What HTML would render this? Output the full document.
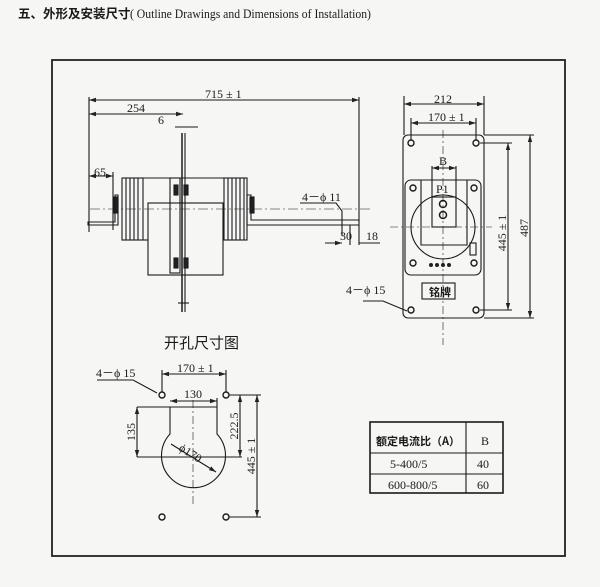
<!DOCTYPE html>
<html><head><meta charset="utf-8"><style>
html,body{margin:0;padding:0;background:#f6f6f4;}
svg{display:block}
text{fill:#1a1a1a}
</style></head><body>
<svg width="600" height="587" viewBox="0 0 600 587" xmlns="http://www.w3.org/2000/svg">
<defs><marker id="a" markerWidth="8" markerHeight="6" refX="7" refY="3" orient="auto-start-reverse" markerUnits="userSpaceOnUse"><path d="M0,0.8 L7,3 L0,5.2z" fill="#222"/></marker></defs>
<text x="18" y="18" style="font-family:'Noto Sans CJK SC',sans-serif;font-size:12.5px;font-weight:bold">五、外形及安装尺寸</text>
<text x="130" y="18" style="font-family:'Liberation Serif',serif;font-size:13px" transform="translate(130,0) scale(0.9,1) translate(-130,0)">( Outline Drawings and Dimensions of Installation)</text>
<rect x="52" y="60" width="513" height="496" fill="none" stroke="#222" stroke-width="1.8"/>
<g stroke="#1a1a1a" fill="none" stroke-width="1.1">
<line x1="89" y1="97" x2="89" y2="232"/><line x1="359" y1="97" x2="359" y2="222"/>
<line x1="89" y1="100" x2="359" y2="100" marker-start="url(#a)" marker-end="url(#a)"/>
<line x1="89" y1="114" x2="183" y2="114" marker-start="url(#a)" marker-end="url(#a)"/>
<line x1="175" y1="127" x2="198" y2="127"/>
<line x1="113" y1="172" x2="113" y2="230"/>
<line x1="89" y1="176" x2="113" y2="176" marker-start="url(#a)" marker-end="url(#a)"/>
<line x1="182" y1="133" x2="182" y2="312" stroke-width="1.5"/>
<line x1="185" y1="133" x2="185" y2="312"/>
<line x1="178" y1="303" x2="189" y2="303"/>
<rect x="122" y="178" width="21" height="62"/><rect x="224" y="178" width="23" height="62"/>
<path d="M126,178v62M130,178v62M134,178v62M138,178v62M228,178v62M232,178v62M236,178v62M240,178v62M244,178v62"/>
<line x1="143" y1="178" x2="224" y2="178"/><line x1="143" y1="240" x2="148" y2="240"/>
<rect x="148" y="203" width="75" height="72"/>
<rect x="170" y="178" width="10" height="95"/>
<rect x="174" y="185" width="4" height="10" fill="#222"/><rect x="184" y="185" width="4" height="10" fill="#222"/>
<rect x="174" y="258" width="4" height="10" fill="#222"/><rect x="184" y="258" width="4" height="10" fill="#222"/>
<rect x="114" y="197" width="4" height="16" fill="#222"/><rect x="250" y="197" width="4" height="16" fill="#222"/>
<path d="M118,195v30h-30v-3h27v-27z"/>
<path d="M247,195v30h112v-5h-108v-25z"/>
<line x1="90" y1="209" x2="370" y2="209" stroke-dasharray="10,3,2,3" stroke-width="0.6"/>
<path d="M300,203h36l6,8v25"/><line x1="350" y1="225" x2="350" y2="245"/><line x1="359" y1="225" x2="359" y2="245"/>
<line x1="325" y1="243" x2="342" y2="243" marker-end="url(#a)"/><line x1="359" y1="243" x2="380" y2="243"/>
<line x1="404" y1="96" x2="404" y2="135"/><line x1="484" y1="96" x2="484" y2="135"/>
<line x1="404" y1="104" x2="484" y2="104" marker-start="url(#a)" marker-end="url(#a)"/>
<line x1="411" y1="118" x2="411" y2="143"/><line x1="476" y1="118" x2="476" y2="143"/>
<line x1="411" y1="123" x2="476" y2="123" marker-start="url(#a)" marker-end="url(#a)"/>
<rect x="403" y="135" width="81" height="183" rx="5"/>
<rect x="405" y="180" width="76" height="95" rx="6"/>
<circle cx="443" cy="227" r="32"/>
<path d="M421,180v65h46v-65"/><rect x="432" y="197" width="24" height="30"/>
<path d="M432,197v-31M456,197v-31"/><line x1="432" y1="168" x2="456" y2="168" marker-start="url(#a)" marker-end="url(#a)"/>
<circle cx="443" cy="204" r="3.5" stroke-width="1.5"/><circle cx="443" cy="215" r="3.5" stroke-width="1.5"/>
<rect x="470" y="243" width="6" height="12"/>
<rect x="422" y="283" width="33" height="16"/>
<line x1="443" y1="130" x2="443" y2="345" stroke-dasharray="8,3,2,3" stroke-width="0.6"/>
<line x1="390" y1="227" x2="492" y2="227" stroke-dasharray="8,3,2,3" stroke-width="0.6"/>
<line x1="480" y1="143" x2="512" y2="143"/><line x1="480" y1="310" x2="512" y2="310"/>
<line x1="508" y1="143" x2="508" y2="310" marker-start="url(#a)" marker-end="url(#a)"/>
<line x1="484" y1="135" x2="534" y2="135"/><line x1="484" y1="318" x2="534" y2="318"/>
<line x1="530" y1="135" x2="530" y2="318" marker-start="url(#a)" marker-end="url(#a)"/>
<path d="M363,301h20l24,10"/>
<path d="M170,434V407H217V434A32,32 0 1 1 170,434z"/>
<line x1="193" y1="400" x2="193" y2="505" stroke-dasharray="8,3,2,3" stroke-width="0.6"/>
<line x1="137" y1="407" x2="170" y2="407"/><line x1="137" y1="457" x2="242" y2="457"/>
<line x1="137" y1="407" x2="137" y2="457" marker-start="url(#a)" marker-end="url(#a)"/>
<line x1="162" y1="370" x2="162" y2="392"/><line x1="226" y1="370" x2="226" y2="392"/>
<line x1="162" y1="374" x2="226" y2="374" marker-start="url(#a)" marker-end="url(#a)"/>
<line x1="217" y1="398" x2="217" y2="407"/>
<line x1="170" y1="401" x2="217" y2="401" marker-start="url(#a)" marker-end="url(#a)"/>
<line x1="229" y1="395" x2="261" y2="395"/><line x1="229" y1="517" x2="261" y2="517"/>
<line x1="240" y1="395" x2="240" y2="457" marker-start="url(#a)" marker-end="url(#a)"/>
<line x1="257" y1="395" x2="257" y2="517" marker-start="url(#a)" marker-end="url(#a)"/>
<line x1="171" y1="444" x2="216" y2="472" marker-end="url(#a)"/>
<path d="M97,380h36l24,13"/>
<rect x="370" y="422" width="133" height="71" stroke-width="1.6"/>
<line x1="466" y1="422" x2="466" y2="493"/><line x1="370" y1="453" x2="503" y2="453"/><line x1="370" y1="474" x2="503" y2="474"/>
</g>
<g fill="#f6f6f4" stroke="#1a1a1a" stroke-width="1.4">
<circle cx="411" cy="143" r="3"/><circle cx="476" cy="143" r="3"/><circle cx="411" cy="310" r="3"/><circle cx="476" cy="310" r="3"/>
<circle cx="413" cy="188" r="3"/><circle cx="474" cy="188" r="3"/><circle cx="413" cy="263" r="3"/><circle cx="474" cy="263" r="3"/>
<circle cx="162" cy="395" r="3"/><circle cx="226" cy="395" r="3"/><circle cx="162" cy="517" r="3"/><circle cx="226" cy="517" r="3"/>
</g>
<g fill="#222"><circle cx="431" cy="265" r="2"/><circle cx="437" cy="265" r="2"/><circle cx="443" cy="265" r="2"/><circle cx="449" cy="265" r="2"/></g>
<g style="font-family:'Liberation Serif',serif;font-size:12px">
<text x="205" y="98">715 ± 1</text><text x="127" y="112">254</text><text x="158" y="124">6</text>
<text x="94" y="176">65</text><text x="302" y="201">4－ϕ 11</text>
<text x="340" y="240">30</text><text x="366" y="240">18</text>
<text x="434" y="103">212</text><text x="428" y="121">170 ± 1</text>
<text x="439" y="165">B</text><text x="436" y="193">P1</text>
<text x="346" y="294">4－ϕ 15</text>
<text x="96" y="377">4－ϕ 15</text><text x="177" y="372">170 ± 1</text><text x="184" y="398">130</text>
<text x="481" y="445">B</text>
<text x="390" y="468">5-400/5</text><text x="477" y="468">40</text>
<text x="388" y="489">600-800/5</text><text x="477" y="489">60</text>
<text transform="translate(506,233) rotate(-90)" text-anchor="middle">445 ± 1</text>
<text transform="translate(528,228) rotate(-90)" text-anchor="middle">487</text>
<text transform="translate(135,432) rotate(-90)" text-anchor="middle">135</text>
<text transform="translate(238,426) rotate(-90)" text-anchor="middle">222.5</text>
<text transform="translate(255,456) rotate(-90)" text-anchor="middle">445 ± 1</text>
<text transform="translate(178,450) rotate(32)">ϕ170</text>
</g>
<text x="376" y="445" style="font-family:'Noto Sans CJK SC',sans-serif;font-size:11px;font-weight:bold">额定电流比（A）</text>
<text x="429" y="296" style="font-family:'Noto Sans CJK SC',sans-serif;font-size:11px;font-weight:bold">铭牌</text>
<text x="164" y="348" style="font-family:'Noto Sans CJK SC',sans-serif;font-size:15px">开孔尺寸图</text>
</svg>
</body></html>
